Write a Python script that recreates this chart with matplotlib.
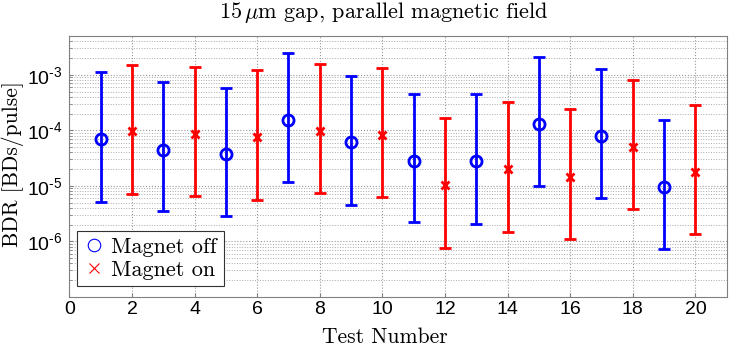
import matplotlib.pyplot as plt
import numpy as np
from matplotlib.lines import Line2D
from matplotlib.ticker import FixedLocator, LogLocator, NullFormatter

plt.rcParams["mathtext.fontset"] = "custom"
plt.rcParams["mathtext.rm"] = "Liberation Sans"
plt.rcParams["mathtext.it"] = "Liberation Sans:italic"

# magnet off tests (odd) and magnet on tests (even)
tests_off = [1, 3, 5, 7, 9, 11, 13, 15, 17, 19]
bdr_off = [6.95e-5, 4.5e-5, 3.7e-5, 1.53e-4, 6.05e-5, 2.83e-5, 2.75e-5, 1.29e-4, 7.8e-5, 9.4e-6]
high_off = [1.13e-3, 7.5e-4, 5.9e-4, 2.49e-3, 9.5e-4, 4.55e-4, 4.43e-4, 2.14e-3, 1.25e-3, 1.55e-4]
low_off = [5.2e-6, 3.5e-6, 2.86e-6, 1.17e-5, 4.57e-6, 2.2e-6, 2.08e-6, 1.0e-5, 6.0e-6, 7.2e-7]

tests_on = [2, 4, 6, 8, 10, 12, 14, 16, 18, 20]
bdr_on = [9.55e-5, 8.55e-5, 7.45e-5, 9.7e-5, 8.3e-5, 1.03e-5, 1.98e-5, 1.46e-5, 5.06e-5, 1.75e-5]
high_on = [1.53e-3, 1.36e-3, 1.2e-3, 1.58e-3, 1.32e-3, 1.64e-4, 3.18e-4, 2.38e-4, 8.1e-4, 2.84e-4]
low_on = [7.1e-6, 6.45e-6, 5.6e-6, 7.3e-6, 6.3e-6, 7.7e-7, 1.47e-6, 1.12e-6, 3.77e-6, 1.34e-6]

x_ticks = list(range(0, 21, 2))
y_ticks = [1e-6, 1e-5, 1e-4, 1e-3]

SERIF = ["cmr10", "DejaVu Serif"]

fig = plt.figure(figsize=(7.48, 3.61), dpi=100)
ax = fig.add_axes([0.0927, 0.178, 0.8788, 0.722])


def draw(ax, x, y, lo, hi, color, marker, ms):
    y = np.array(y)
    err = [y - np.array(lo), np.array(hi) - y]
    ax.errorbar(x, y, yerr=err, fmt=marker, color=color, ecolor=color,
                elinewidth=2, capsize=4, capthick=2, markersize=ms,
                markerfacecolor="none", markeredgewidth=2, zorder=3)


draw(ax, tests_off, bdr_off, low_off, high_off, "#0000ff", "o", 8)
draw(ax, tests_on, bdr_on, low_on, high_on, "#ff0000", "x", 6)

ax.set_yscale("log")
ax.set_xlim(0, 21)
ax.set_ylim(1e-7, 5e-3)
ax.xaxis.set_major_locator(FixedLocator(x_ticks))
ax.yaxis.set_major_locator(FixedLocator(y_ticks))
ax.yaxis.set_minor_locator(LogLocator(base=10, subs=np.arange(2, 10)))
ax.yaxis.set_minor_formatter(NullFormatter())
ax.set_yticklabels([r"$10^{\text{-}%d}$" % -int(np.log10(v)) for v in y_ticks])

ax.grid(True, which="major", color="#999999", linestyle=":", linewidth=0.8)
ax.grid(True, which="minor", axis="y", color="#aaaaaa", linestyle=":", linewidth=0.7)
ax.set_axisbelow(True)

for s in ax.spines.values():
    s.set_color("#808080")
ax.tick_params(which="both", direction="in", color="#808080", length=3,
               labelsize=14)
ax.tick_params(axis="x", pad=3)
ax.tick_params(axis="y", pad=5)
ax.tick_params(which="minor", length=2)
for lab in ax.get_xticklabels() + ax.get_yticklabels():
    lab.set_family("Liberation Sans")

ax.set_title(r"15$\,\mu$m gap, parallel magnetic field",
             family=SERIF, fontsize=16, y=1.036, va="baseline", math_fontfamily="cm")
ax.title.set_x(0.479)

ax.set_xlabel("Test Number", family=SERIF, fontsize=15.5, va="baseline")
ax.xaxis.set_label_coords(0.4795, -0.1776)
ax.set_ylabel("BDR [BDs/pulse]", family=SERIF, fontsize=15.5, va="baseline")
ax.yaxis.set_label_coords(-0.078, 0.51)

handles = [
    Line2D([], [], linestyle="none", marker="o", color="#0000ff", markerfacecolor="none",
           markersize=9, markeredgewidth=0.8),
    Line2D([], [], linestyle="none", marker="x", color="#ff0000",
           markersize=7, markeredgewidth=0.8),
]
leg = ax.legend(handles, ["Magnet off", "Magnet on"], loc="lower left",
                prop={"family": SERIF, "size": 16}, fancybox=False,
                edgecolor="#333333", framealpha=1, handlelength=0.9,
                handletextpad=0.35, borderpad=0.3, labelspacing=0.15,
                borderaxespad=0, bbox_to_anchor=(0.0115, 0.04))
leg.get_frame().set_linewidth(0.8)

fig.savefig("out.png", dpi=100)
